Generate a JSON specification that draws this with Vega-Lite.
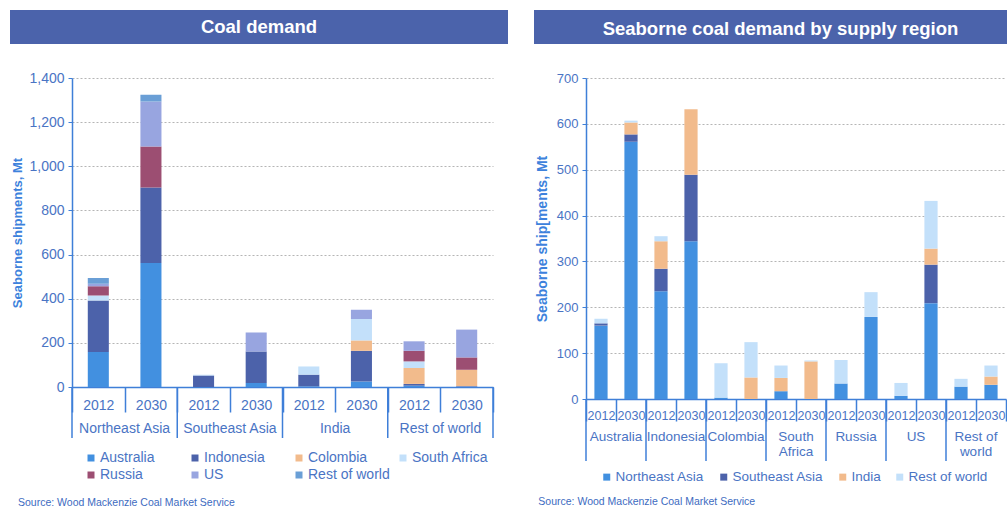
{
  "$schema": "https://vega.github.io/schema/vega-lite/v6.json",
  "padding": {"left": 10, "top": 10, "right": 0, "bottom": 0},
  "background": "white",
  "config": {
    "font": "Liberation Sans",
    "view": {"stroke": null}
  },
  "spacing": 27,
  "resolve": {"scale": {"color": "independent", "x": "independent", "y": "independent"}, "legend": {"color": "independent"}},
  "datasets": {
    "left": [
      {"bar": "Northeast Asia 2012", "source": "Australia", "value": 159},
      {"bar": "Northeast Asia 2012", "source": "Indonesia", "value": 233},
      {"bar": "Northeast Asia 2012", "source": "South Africa", "value": 23},
      {"bar": "Northeast Asia 2012", "source": "Russia", "value": 41},
      {"bar": "Northeast Asia 2012", "source": "US", "value": 12},
      {"bar": "Northeast Asia 2012", "source": "Rest of world", "value": 26},
      {"bar": "Northeast Asia 2030", "source": "Australia", "value": 562},
      {"bar": "Northeast Asia 2030", "source": "Indonesia", "value": 342},
      {"bar": "Northeast Asia 2030", "source": "Russia", "value": 186},
      {"bar": "Northeast Asia 2030", "source": "US", "value": 204},
      {"bar": "Northeast Asia 2030", "source": "Rest of world", "value": 30},
      {"bar": "Southeast Asia 2012", "source": "Indonesia", "value": 52},
      {"bar": "Southeast Asia 2012", "source": "South Africa", "value": 4},
      {"bar": "Southeast Asia 2030", "source": "Australia", "value": 18},
      {"bar": "Southeast Asia 2030", "source": "Indonesia", "value": 143},
      {"bar": "Southeast Asia 2030", "source": "US", "value": 86},
      {"bar": "India 2012", "source": "Australia", "value": 3},
      {"bar": "India 2012", "source": "Indonesia", "value": 53},
      {"bar": "India 2012", "source": "South Africa", "value": 37},
      {"bar": "India 2030", "source": "Australia", "value": 25},
      {"bar": "India 2030", "source": "Indonesia", "value": 139},
      {"bar": "India 2030", "source": "Colombia", "value": 47},
      {"bar": "India 2030", "source": "South Africa", "value": 97},
      {"bar": "India 2030", "source": "US", "value": 42},
      {"bar": "Rest of world 2012", "source": "Australia", "value": 6},
      {"bar": "Rest of world 2012", "source": "Indonesia", "value": 8},
      {"bar": "Rest of world 2012", "source": "Colombia", "value": 72},
      {"bar": "Rest of world 2012", "source": "South Africa", "value": 30},
      {"bar": "Rest of world 2012", "source": "Russia", "value": 48},
      {"bar": "Rest of world 2012", "source": "US", "value": 43},
      {"bar": "Rest of world 2030", "source": "Australia", "value": 2},
      {"bar": "Rest of world 2030", "source": "Indonesia", "value": 2},
      {"bar": "Rest of world 2030", "source": "Colombia", "value": 74},
      {"bar": "Rest of world 2030", "source": "Russia", "value": 56},
      {"bar": "Rest of world 2030", "source": "US", "value": 126}
    ],
    "leftOrder": [
      {"source": "Australia", "rank": 1},
      {"source": "Indonesia", "rank": 2},
      {"source": "Colombia", "rank": 3},
      {"source": "South Africa", "rank": 4},
      {"source": "Russia", "rank": 5},
      {"source": "US", "rank": 6},
      {"source": "Rest of world", "rank": 7}
    ],
    "leftGroups": [
      {"bar": "Northeast Asia 2012", "label": "Northeast Asia"},
      {"bar": "Southeast Asia 2012", "label": "Southeast Asia"},
      {"bar": "India 2012", "label": "India"},
      {"bar": "Rest of world 2012", "label": "Rest of world"}
    ],
    "right": [
      {"bar": "Australia 2012", "dest": "Northeast Asia", "value": 160},
      {"bar": "Australia 2012", "dest": "Southeast Asia", "value": 5},
      {"bar": "Australia 2012", "dest": "Rest of world", "value": 10},
      {"bar": "Australia 2030", "dest": "Northeast Asia", "value": 561},
      {"bar": "Australia 2030", "dest": "Southeast Asia", "value": 16},
      {"bar": "Australia 2030", "dest": "India", "value": 26},
      {"bar": "Australia 2030", "dest": "Rest of world", "value": 4},
      {"bar": "Indonesia 2012", "dest": "Northeast Asia", "value": 235},
      {"bar": "Indonesia 2012", "dest": "Southeast Asia", "value": 49},
      {"bar": "Indonesia 2012", "dest": "India", "value": 60},
      {"bar": "Indonesia 2012", "dest": "Rest of world", "value": 11},
      {"bar": "Indonesia 2030", "dest": "Northeast Asia", "value": 344},
      {"bar": "Indonesia 2030", "dest": "Southeast Asia", "value": 145},
      {"bar": "Indonesia 2030", "dest": "India", "value": 143},
      {"bar": "Colombia 2012", "dest": "Northeast Asia", "value": 3},
      {"bar": "Colombia 2012", "dest": "Rest of world", "value": 75},
      {"bar": "Colombia 2030", "dest": "India", "value": 47},
      {"bar": "Colombia 2030", "dest": "Rest of world", "value": 77},
      {"bar": "South Africa 2012", "dest": "Northeast Asia", "value": 17},
      {"bar": "South Africa 2012", "dest": "India", "value": 29},
      {"bar": "South Africa 2012", "dest": "Rest of world", "value": 27},
      {"bar": "South Africa 2030", "dest": "India", "value": 82},
      {"bar": "South Africa 2030", "dest": "Rest of world", "value": 2},
      {"bar": "Russia 2012", "dest": "Northeast Asia", "value": 34},
      {"bar": "Russia 2012", "dest": "Rest of world", "value": 51},
      {"bar": "Russia 2030", "dest": "Northeast Asia", "value": 179},
      {"bar": "Russia 2030", "dest": "Rest of world", "value": 54},
      {"bar": "US 2012", "dest": "Northeast Asia", "value": 7},
      {"bar": "US 2012", "dest": "Rest of world", "value": 28},
      {"bar": "US 2030", "dest": "Northeast Asia", "value": 209},
      {"bar": "US 2030", "dest": "Southeast Asia", "value": 84},
      {"bar": "US 2030", "dest": "India", "value": 35},
      {"bar": "US 2030", "dest": "Rest of world", "value": 104},
      {"bar": "Rest of world 2012", "dest": "Northeast Asia", "value": 27},
      {"bar": "Rest of world 2012", "dest": "Rest of world", "value": 17},
      {"bar": "Rest of world 2030", "dest": "Northeast Asia", "value": 31},
      {"bar": "Rest of world 2030", "dest": "India", "value": 18},
      {"bar": "Rest of world 2030", "dest": "Rest of world", "value": 24}
    ],
    "rightOrder": [
      {"dest": "Northeast Asia", "rank": 1},
      {"dest": "Southeast Asia", "rank": 2},
      {"dest": "India", "rank": 3},
      {"dest": "Rest of world", "rank": 4}
    ],
    "rightGroups": [
      {"bar": "Australia 2012", "label": "Australia"},
      {"bar": "Indonesia 2012", "label": "Indonesia"},
      {"bar": "Colombia 2012", "label": "Colombia"},
      {"bar": "South Africa 2012", "label": "South\nAfrica"},
      {"bar": "Russia 2012", "label": "Russia"},
      {"bar": "US 2012", "label": "US"},
      {"bar": "Rest of world 2012", "label": "Rest of\nworld"}
    ]
  },
  "vconcat": [
    {
      "spacing": 26,
      "hconcat": [
        {
          "width": 498,
          "height": 34,
          "view": {"fill": "#4b63ab", "stroke": null},
          "data": {"values": [{"t": "Coal demand"}]},
          "mark": {"type": "text", "color": "white", "fontSize": 18.5, "fontWeight": "bold", "letterSpacing": 0.75},
          "encoding": {"text": {"field": "t"}}
        },
        {
          "width": 473,
          "height": 34,
          "view": {"fill": "#4b63ab", "stroke": null},
          "data": {"values": [{"t": "Seaborne coal demand by supply region"}]},
          "mark": {"type": "text", "color": "white", "fontSize": 18.5, "fontWeight": "bold", "letterSpacing": 0.75, "dx": 10, "dy": 2},
          "encoding": {"text": {"field": "t"}}
        }
      ]
    },
    {
      "spacing": 41,
      "resolve": {"scale": {"color": "independent", "x": "independent", "y": "independent"}, "legend": {"color": "independent"}},
      "hconcat": [
        {
          "spacing": 0,
          "resolve": {"scale": {"color": "independent", "x": "independent", "y": "independent"}, "legend": {"color": "independent"}},
          "hconcat": [
            {
              "width": 1,
              "height": 1,
              "data": {"values": [{"t": ""}]},
              "mark": {"type": "text", "opacity": 0},
              "encoding": {"text": {"field": "t"}}
            },
            {
              "width": 421,
              "height": 309,
              "title": {"text": "Source: Wood Mackenzie Coal Market Service", "orient": "bottom", "anchor": "start", "frame": "bounds", "fontSize": 10.5, "fontWeight": "normal", "color": "#3d6bbf", "offset": 16, "dx": 6},
              "layer": [
                {
                  "data": {"name": "left"},
                  "transform": [{"lookup": "source", "from": {"data": {"name": "leftOrder"}, "key": "source", "fields": ["rank"]}}],
                  "mark": {"type": "bar", "width": {"band": 0.4}},
                  "encoding": {
                    "x": {
                      "field": "bar", "type": "nominal",
                      "scale": {"domain": ["Northeast Asia 2012", "Northeast Asia 2030", "Southeast Asia 2012", "Southeast Asia 2030", "India 2012", "India 2030", "Rest of world 2012", "Rest of world 2030"], "paddingInner": 0, "paddingOuter": 0},
                      "axis": {"title": null, "labelExpr": "slice(datum.label, -4)", "labelAngle": 0, "tickBand": "extent", "tickSize": 25, "tickColor": "#3f7fd8", "tickWidth": 1.5, "domainColor": "#3f7fd8", "domainWidth": 1.5, "labelFontSize": 14, "labelColor": "#4a74c4", "labelPadding": -7, "labelBaseline": "middle", "labelOverlap": false, "grid": false}
                    },
                    "y": {
                      "field": "value", "type": "quantitative",
                      "scale": {"domain": [0, 1400], "nice": false},
                      "axis": {"values": [0, 200, 400, 600, 800, 1000, 1200, 1400], "format": ",d", "grid": true, "gridDash": [2, 2], "gridColor": "#b5b5b5", "domainColor": "#3f7fd8", "domainWidth": 1.5, "tickColor": "#3f7fd8", "tickSize": 4, "labelFontSize": 14, "labelColor": "#4a74c4", "labelPadding": 4, "title": "Seaborne shipments, Mt", "titleFontSize": 13, "titleFontWeight": "bold", "titleColor": "#3d82dc", "titlePadding": 4}
                    },
                    "order": {"field": "rank", "type": "quantitative", "sort": "ascending"},
                    "color": {
                      "field": "source", "type": "nominal",
                      "sort": ["Australia", "Indonesia", "Colombia", "South Africa", "Russia", "US", "Rest of world"],
                      "scale": {"domain": ["Australia", "Indonesia", "Colombia", "South Africa", "Russia", "US", "Rest of world"], "range": ["#4290e0", "#4c62aa", "#f2bb8c", "#c3e0fa", "#9c4e72", "#98a5e0", "#6a9fd6"]},
                      "legend": {"title": null, "orient": "none", "legendX": 12, "legendY": 373, "direction": "horizontal", "columns": 4, "gridAlign": "all", "symbolType": "square", "symbolSize": 49, "symbolStrokeWidth": 0, "labelFontSize": 14, "labelColor": "#4a74c4", "labelOffset": 2, "columnPadding": 6, "rowPadding": 3, "padding": 0}
                    }
                  }
                },
                {
                  "data": {"name": "leftGroups"},
                  "mark": {"type": "text", "baseline": "top", "dy": 35, "fontSize": 14, "color": "#4a74c4"},
                  "encoding": {
                    "x": {"field": "bar", "type": "nominal", "bandPosition": 1},
                    "y": {"datum": 0, "type": "quantitative"},
                    "text": {"field": "label"}
                  }
                },
                {
                  "data": {"name": "leftGroups"},
                  "mark": {"type": "rule", "y2Offset": 51, "color": "#3f7fd8", "strokeWidth": 1.5},
                  "encoding": {
                    "x": {"field": "bar", "type": "nominal", "bandPosition": 0},
                    "y": {"datum": 0, "type": "quantitative"},
                    "y2": {"datum": 0}
                  }
                },
                {
                  "data": {"values": [{"bar": "Rest of world 2030"}]},
                  "mark": {"type": "rule", "y2Offset": 51, "color": "#3f7fd8", "strokeWidth": 1.5},
                  "encoding": {
                    "x": {"field": "bar", "type": "nominal", "bandPosition": 1},
                    "y": {"datum": 0, "type": "quantitative"},
                    "y2": {"datum": 0}
                  }
                }
              ]
            }
          ]
        },
        {
          "width": 420,
          "height": 321,
          "title": {"text": "Source: Wood Mackenzie Coal Market Service", "orient": "bottom", "anchor": "start", "frame": "bounds", "fontSize": 10.5, "fontWeight": "normal", "color": "#3d6bbf", "offset": 13, "dx": 3},
          "layer": [
            {
              "data": {"name": "right"},
              "transform": [{"lookup": "dest", "from": {"data": {"name": "rightOrder"}, "key": "dest", "fields": ["rank"]}}],
              "mark": {"type": "bar", "width": {"band": 0.44}},
              "encoding": {
                "x": {
                  "field": "bar", "type": "nominal",
                  "scale": {"domain": ["Australia 2012", "Australia 2030", "Indonesia 2012", "Indonesia 2030", "Colombia 2012", "Colombia 2030", "South Africa 2012", "South Africa 2030", "Russia 2012", "Russia 2030", "US 2012", "US 2030", "Rest of world 2012", "Rest of world 2030"], "paddingInner": 0, "paddingOuter": 0},
                  "axis": {"title": null, "labelExpr": "slice(datum.label, -4)", "labelAngle": 0, "tickBand": "extent", "tickSize": 22, "tickColor": "#3f7fd8", "tickWidth": 1.5, "domainColor": "#3f7fd8", "domainWidth": 1.5, "labelFontSize": 12.5, "labelColor": "#4a74c4", "labelPadding": -6, "labelBaseline": "middle", "labelOverlap": false, "grid": false}
                },
                "y": {
                  "field": "value", "type": "quantitative",
                  "scale": {"domain": [0, 700], "nice": false},
                  "axis": {"values": [0, 100, 200, 300, 400, 500, 600, 700], "format": ",d", "grid": true, "gridDash": [2, 2], "gridColor": "#b5b5b5", "domainColor": "#3f7fd8", "domainWidth": 1.5, "tickColor": "#3f7fd8", "tickSize": 4, "labelFontSize": 13, "labelColor": "#4a74c4", "labelPadding": 4, "title": "Seaborne ship[ments, Mt", "titleFontSize": 14, "titleFontWeight": "bold", "titleColor": "#3d82dc", "titlePadding": 7}
                },
                "order": {"field": "rank", "type": "quantitative", "sort": "ascending"},
                "color": {
                  "field": "dest", "type": "nominal",
                  "sort": ["Northeast Asia", "Southeast Asia", "India", "Rest of world"],
                  "scale": {"domain": ["Northeast Asia", "Southeast Asia", "India", "Rest of world"], "range": ["#4290e0", "#4c62aa", "#f2bb8c", "#c3e0fa"]},
                  "legend": {"title": null, "orient": "none", "legendX": 14, "legendY": 392, "direction": "horizontal", "gridAlign": "each", "symbolType": "square", "symbolSize": 49, "symbolStrokeWidth": 0, "labelFontSize": 13.5, "labelColor": "#4a74c4", "labelOffset": 2, "columnPadding": 12, "padding": 0}
                }
              }
            },
            {
              "data": {"name": "rightGroups"},
              "mark": {"type": "text", "baseline": "top", "dy": 31, "fontSize": 13.5, "lineHeight": 15, "lineBreak": "\n", "color": "#4a74c4"},
              "encoding": {
                "x": {"field": "bar", "type": "nominal", "bandPosition": 1},
                "y": {"datum": 0, "type": "quantitative"},
                "text": {"field": "label"}
              }
            },
            {
              "data": {"name": "rightGroups"},
              "mark": {"type": "rule", "y2Offset": 62, "color": "#3f7fd8", "strokeWidth": 1.5},
              "encoding": {
                "x": {"field": "bar", "type": "nominal", "bandPosition": 0},
                "y": {"datum": 0, "type": "quantitative"},
                "y2": {"datum": 0}
              }
            }
          ]
        }
      ]
    }
  ]
}
